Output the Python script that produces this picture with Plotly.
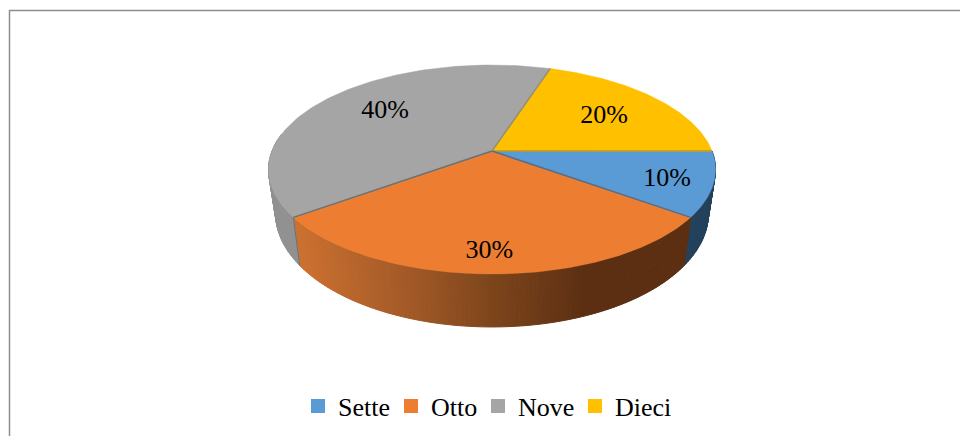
import numpy as np
import plotly.graph_objects as go

# Data
categories = ["Sette", "Otto", "Nove", "Dieci"]
values = [10, 30, 40, 20]
percent_labels = ["10%", "30%", "40%", "20%"]

# Styles
top_colors = ["#5B9BD5", "#ED7D31", "#A5A5A5", "#FFC000"]
edge_colors = ["#B8962A", "#4F6F8F", "#6B7075", "#8F8F7A"]  # edge at start of each slice
FONT = "Liberation Serif, Times New Roman, serif"
# side shading stops: (pixel x, rgb)
side_stops = [
    [(0, (0x24, 0x41, 0x5B)), (960, (0x24, 0x41, 0x5B))],
    [(299, (0xCB, 0x70, 0x30)), (400, (0xA5, 0x5B, 0x28)), (500, (0x7A, 0x43, 0x1A)),
     (585, (0x5C, 0x2F, 0x12)), (960, (0x5C, 0x2F, 0x12))],
    [(0, (0x8F, 0x8F, 0x8F)), (960, (0x96, 0x96, 0x96))],
    [(0, (0x7F, 0x60, 0x00)), (960, (0x7F, 0x60, 0x00))],
]
label_radius = [0.80, 0.826, 0.69, 0.674]
label_nudge_deg = [0, 0.7, 4.5, 0]
LABEL_DROP = 2.5
legend_left = [298, 391, 478, 575]

# Projection of the disc onto the page
CX, TOP_Y, TOP_B, TOP_A = 492.0, 151.0, 220.0, 101.2
BOT_Y, BOT_B, BOT_A = 193.3, 213.0, 110.0
K = 0.177


def project(r, deg, y0=TOP_Y, b=TOP_B, a=TOP_A):
    t = np.radians(deg)
    u, v = r * np.cos(t), r * np.sin(t)
    d = 1 - K * v
    return CX + b * u / d, y0 + a * v / d


def shade(stops, x):
    xs = [s[0] for s in stops]
    return "rgb({},{},{})".format(*[int(round(np.interp(x, xs, [s[1][i] for s in stops]))) for i in range(3)])


total = sum(values)
bounds = [0.0]
for val in values:
    bounds.append(bounds[-1] + 360.0 * val / total)

fig = go.Figure()

# Walls of the disc (only the part that faces the viewer)
for i in range(len(values)):
    a0, a1 = max(bounds[i], -5), min(bounds[i + 1], 190)
    if a1 <= a0:
        continue
    n = max(2, int((a1 - a0) / 1.0))
    edges = np.linspace(a0, a1, n + 1)
    for s0, s1 in zip(edges[:-1], edges[1:]):
        seg = np.linspace(s0, s1, 3)
        tx, ty = project(1, seg)
        bx, by = project(1, seg[::-1], BOT_Y, BOT_B, BOT_A)
        px = np.r_[tx, bx, tx[0]]
        py = np.r_[ty, by, ty[0]]
        col = shade(side_stops[i], float(np.mean(tx)))
        fig.add_trace(go.Scatter(x=px, y=py, mode="lines", fill="toself", fillcolor=col,
                                 line=dict(color=col, width=1), showlegend=False, hoverinfo="skip"))

# Top faces
for i in range(len(values)):
    arc = np.linspace(bounds[i], bounds[i + 1], 120)
    ax, ay = project(1, arc)
    fig.add_trace(go.Scatter(x=np.r_[CX, ax, CX], y=np.r_[TOP_Y, ay, TOP_Y], mode="lines", fill="toself",
                             fillcolor=top_colors[i], line=dict(color=top_colors[i], width=0.5),
                             showlegend=False, hoverinfo="skip"))

# Slice separators
for i in range(len(values)):
    ex, ey = project(1, np.array([bounds[i]]))
    fig.add_trace(go.Scatter(x=[CX, ex[0]], y=[TOP_Y, ey[0]], mode="lines",
                             line=dict(color=edge_colors[i], width=1.5), showlegend=False, hoverinfo="skip"))
# Vertical seam between the grey and orange walls
sx0, sy0 = project(1, np.array([bounds[2]]))
sx1, sy1 = project(1, np.array([bounds[2]]), BOT_Y, BOT_B, BOT_A)
fig.add_trace(go.Scatter(x=[sx0[0], sx1[0]], y=[sy0[0], sy1[0]], mode="lines",
                         line=dict(color="#6B7075", width=1), showlegend=False, hoverinfo="skip"))

# Percent labels
lx, ly = [], []
for i in range(len(values)):
    mid = (bounds[i] + bounds[i + 1]) / 2 + label_nudge_deg[i]
    px, py = project(label_radius[i], np.array([mid]))
    lx.append(px[0])
    ly.append(py[0] + LABEL_DROP)
fig.add_trace(go.Scatter(x=lx, y=ly, mode="text", text=percent_labels, textposition="middle center",
                         textfont=dict(family=FONT, size=26, color="#000000"),
                         showlegend=False, hoverinfo="skip"))

# Legend entries: one single-item legend per category so that spacing can follow the reference
legend_layout = {}
for k, (name, col, left) in enumerate(zip(categories, top_colors, legend_left)):
    key = "legend" if k == 0 else f"legend{k + 1}"
    fig.add_trace(go.Scatter(x=[None], y=[None], mode="markers", name=name, legend=key,
                             marker=dict(symbol="square", size=14, color=col)))
    legend_layout[key] = dict(orientation="h", x=left / 960, y=1 - 406 / 436, xanchor="left", yanchor="middle",
                              font=dict(family=FONT, size=26, color="#000000"), bgcolor="rgba(0,0,0,0)",
                              itemclick=False, itemdoubleclick=False)

fig.update_layout(
    width=960, height=436,
    margin=dict(l=0, r=0, t=0, b=0),
    paper_bgcolor="#FFFFFF", plot_bgcolor="#FFFFFF",
    xaxis=dict(range=[0, 960], visible=False, fixedrange=True),
    yaxis=dict(range=[436, 0], visible=False, fixedrange=True),
    shapes=[
        dict(type="line", xref="x", yref="y", x0=9, x1=960, y0=10.5, y1=10.5, line=dict(color="#8E8E8E", width=1.5)),
        dict(type="line", xref="x", yref="y", x0=9.5, x1=9.5, y0=10, y1=436, line=dict(color="#8E8E8E", width=1.5)),
    ],
    **legend_layout,
)
fig.write_html("out.html", config={"displayModeBar": False},
               post_script="document.body.style.margin='0';document.body.style.overflow='hidden';")
